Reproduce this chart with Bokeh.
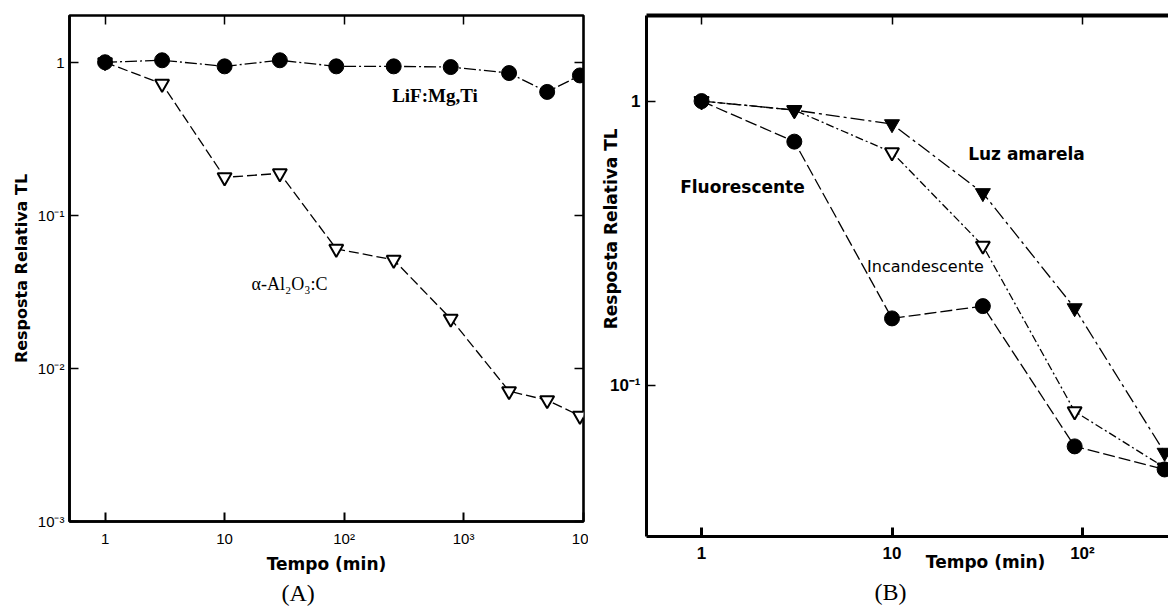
import math
from bokeh.plotting import figure
from bokeh.models import LogAxis, FixedTicker, CustomJSTickFormatter, Label, Title
from bokeh.layouts import row
from bokeh.embed import file_html
from bokeh.resources import INLINE

# ---------------- Panel A data ----------------
tempo_a = [1, 3, 10, 29, 86, 260, 780, 2400, 5000, 9400]
lif = [1.0, 1.03, 0.94, 1.03, 0.94, 0.94, 0.93, 0.85, 0.64, 0.82]
al2o3 = [1.0, 0.723, 0.177, 0.188, 0.0604, 0.0512, 0.0211, 0.0071, 0.0062, 0.0049]

# ---------------- Panel B data ----------------
tempo_b = [1, 3.07, 10, 30, 91, 270]
fluorescente = [1.0, 0.72, 0.172, 0.19, 0.061, 0.0506]
luz_amarela = [1.0, 0.93, 0.83, 0.475, 0.187, 0.058]
incandescente = [1.0, 0.93, 0.66, 0.31, 0.081, 0.0514]

# ---------------- ticks ----------------
xticks_a = [1, 10, 100, 1000, 10000]
xlabels_a = ["1", "10", "10²", "10³", "10"]
yticks_a = [1, 0.1, 0.01, 0.001]
ylabels_a = ["1", "10⁻¹", "10⁻²", "10⁻³"]
xticks_b = [1, 10, 100]
xlabels_b = ["1", "10", "10²"]
yticks_b = [1, 0.1]
ylabels_b = ["1", "10⁻¹"]

XTITLE = "Tempo (min)"
YTITLE = "Resposta Relativa TL"

SANS = "DejaVu Sans"
TICKF = "Liberation Sans"
SERIF = "Liberation Serif"


def fmt(tick_vals, tick_labels):
    return CustomJSTickFormatter(args=dict(tv=tick_vals, tl=tick_labels), code="""
        for (let i = 0; i < tv.length; i++) {
            if (Math.abs(Math.log10(tick) - Math.log10(tv[i])) < 1e-6) return tl[i];
        }
        return "";
    """)


def style_axis(ax, ticks, labels, lw, font_size, bold, standoff, tick_w):
    ax.ticker = FixedTicker(ticks=ticks, minor_ticks=[])
    ax.formatter = fmt(ticks, labels)
    ax.axis_line_color = "black"
    ax.axis_line_width = lw
    ax.major_tick_in = 9
    ax.major_tick_out = 0
    ax.major_tick_line_width = tick_w
    ax.major_tick_line_color = "black"
    ax.minor_tick_line_color = None
    ax.major_label_text_font = TICKF
    ax.major_label_text_font_size = font_size
    ax.major_label_text_font_style = "bold" if bold else "normal"
    ax.major_label_text_color = "black"
    ax.major_label_standoff = standoff


def hidden_axis(ticks, lw, show_line=False):
    ax = LogAxis(ticker=FixedTicker(ticks=ticks, minor_ticks=[]))
    ax.formatter = CustomJSTickFormatter(code="return ' ';")
    ax.major_label_text_font_size = "2px"
    ax.major_label_text_color = None
    ax.major_label_standoff = 0
    ax.axis_line_color = "black" if show_line else None
    ax.axis_line_width = lw
    ax.major_tick_in = 9
    ax.major_tick_out = 0
    ax.major_tick_line_width = 1.5
    ax.minor_tick_line_color = None
    return ax


def text_axis(pos, text, standoff, orientation):
    # an axis without line/ticks used only to place a title text at a position
    ax = LogAxis(ticker=FixedTicker(ticks=[pos], minor_ticks=[]))
    ax.formatter = CustomJSTickFormatter(args=dict(t=text), code="return t;")
    ax.axis_line_color = None
    ax.major_tick_line_color = None
    ax.minor_tick_line_color = None
    ax.major_tick_in = 0
    ax.major_tick_out = 0
    ax.major_label_text_font = SANS
    ax.major_label_text_font_size = "17px"
    ax.major_label_text_font_style = "bold"
    ax.major_label_text_color = "black"
    ax.major_label_standoff = standoff
    ax.major_label_orientation = orientation
    return ax


def no_align(p):
    if "frame_align" in p.properties():
        p.frame_align = False


# ======================= Panel A =======================
p1 = figure(width=588, height=606, x_axis_type="log", y_axis_type="log",
            x_range=(0.504, 10070), y_range=(0.001, 2.02),
            output_backend="svg", toolbar_location=None,
            min_border_left=69, min_border_right=5, min_border_top=15, min_border_bottom=85)
no_align(p1)
p1.grid.visible = False
p1.outline_line_color = "black"
p1.outline_line_width = 2.6
p1.outline_line_alpha = 1
p1.background_fill_color = "white"
p1.border_fill_color = "white"

style_axis(p1.below[0], xticks_a, xlabels_a, 2.6, "15px", False, 8, 2)
style_axis(p1.left[0], yticks_a, ylabels_a, 2.6, "15px", False, 5, 1.5)
for ax in (p1.below[0], p1.left[0]):
    ax.axis_label_text_font = SANS
    ax.axis_label_text_font_size = "16px"
    ax.axis_label_text_font_style = "bold"
    ax.axis_label_text_color = "black"
p1.below[0].axis_label = XTITLE
p1.below[0].axis_label_standoff = 4
p1.below[0].axis_label_text_font_size = "17px"
p1.left[0].axis_label = YTITLE
p1.left[0].axis_label_standoff = 4
p1.add_layout(hidden_axis(xticks_a[:-1], 2.6), "above")
p1.add_layout(hidden_axis(yticks_a, 2.6), "right")

p1.line(tempo_a, al2o3, line_color="black", line_width=1.3, line_dash="10 4")
p1.line(tempo_a, lif, line_color="black", line_width=1.3, line_dash="12 3 2 3")
p1.scatter(tempo_a, al2o3, marker="inverted_triangle", size=14, fill_color="white",
           line_color="black", line_width=2)
p1.scatter(tempo_a, lif, marker="circle", size=15, fill_color="black", line_color="black")

p1.add_layout(Label(x=576, y=0.606, text="LiF:Mg,Ti", text_align="center", text_baseline="middle",
                    text_font=SERIF, text_font_size="19px", text_font_style="bold",
                    text_color="black"))
p1.add_layout(Label(x=35, y=0.0357, text="α-Al₂O₃:C", text_align="center", text_baseline="middle",
                    text_font=SERIF, text_font_size="18px", text_color="black"))
p1.add_layout(Title(text="(A)", align="left", offset=212, standoff=2, text_font=SERIF,
                    text_font_size="24px", text_font_style="normal", text_color="black"), "below")

# ======================= Panel B =======================
p2 = figure(width=580, height=606, x_axis_type="log", y_axis_type="log",
            x_range=(0.514, 283), y_range=(0.0294, 2.0),
            output_backend="svg", toolbar_location=None,
            min_border_left=58, min_border_right=0, min_border_top=15, min_border_bottom=69)
no_align(p2)
p2.grid.visible = False
p2.outline_line_color = None
p2.background_fill_color = "white"
p2.border_fill_color = "white"

style_axis(p2.below[0], xticks_b, xlabels_b, 3, "17px", True, 7, 3)
style_axis(p2.left[0], yticks_b, ylabels_b, 3, "17px", True, 6, 1.5)
p2.add_layout(hidden_axis(xticks_b, 4, show_line=True), "above")
p2.add_layout(text_axis(31, XTITLE, -14, "horizontal"), "below")
p2.add_layout(text_axis(0.802, YTITLE, -5, math.pi / 2), "left")

p2.line(tempo_b, incandescente, line_color="black", line_width=1.3, line_dash="8 3 2 3")
p2.line(tempo_b, luz_amarela, line_color="black", line_width=1.3, line_dash="14 4 3 4")
p2.line(tempo_b, fluorescente, line_color="black", line_width=1.3, line_dash="12 4")
p2.scatter(tempo_b, incandescente, marker="inverted_triangle", size=14, fill_color="white",
           line_color="black", line_width=2)
p2.scatter(tempo_b, luz_amarela, marker="inverted_triangle", size=15, fill_color="black",
           line_color="black")
p2.scatter(tempo_b, fluorescente, marker="circle", size=15, fill_color="black", line_color="black")

p2.add_layout(Label(x=50.8, y=0.65, text="Luz amarela", text_align="center", text_baseline="middle",
                    text_font=SANS, text_font_size="17px", text_font_style="bold",
                    text_color="black"))
p2.add_layout(Label(x=1.64, y=0.498, text="Fluorescente", text_align="center", text_baseline="middle",
                    text_font=SANS, text_font_size="17px", text_font_style="bold",
                    text_color="black"))
p2.add_layout(Label(x=15.0, y=0.261, text="Incandescente", text_align="center", text_baseline="middle",
                    text_font=SANS, text_font_size="16px", text_color="black"))
p2.add_layout(Title(text="(B)", align="left", offset=228, standoff=4, text_font=SERIF,
                    text_font_size="24px", text_font_style="normal", text_color="black"), "below")

layout = row(p1, p2, spacing=0)
open("out.html", "w").write(file_html(layout, INLINE))
